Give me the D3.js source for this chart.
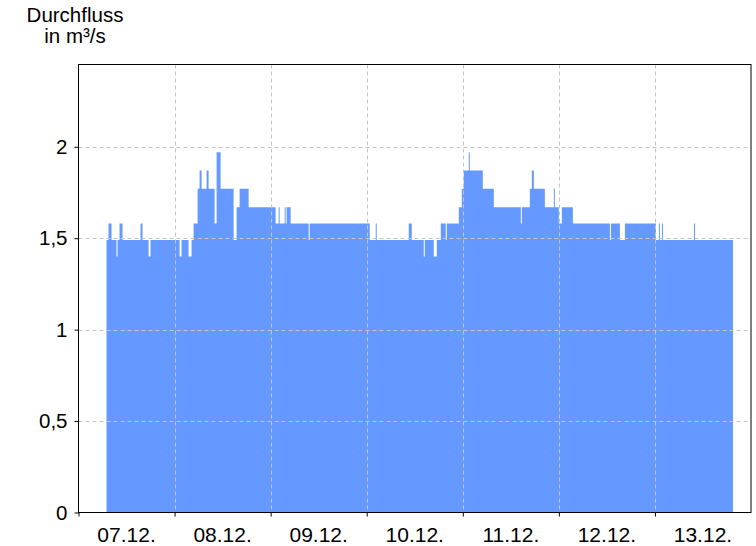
<!DOCTYPE html>
<html><head><meta charset="utf-8">
<script src="https://cdn.jsdelivr.net/npm/d3@7"></script>
<style>
body{margin:0;background:#fff;}
text{font-family:"Liberation Sans",Arial,sans-serif;fill:#000;}
</style></head>
<body><svg id="c" width="756" height="546"></svg>
<script>
// Time axis: hours since 07.12. 00:00, flow in m³/s (step changes)
const changeHours = [7.0,7.5,8.25,9.5,9.75,10.25,11.0,15.5,16.0,17.5,18.0,25.25,25.75,27.5,28.25,28.75,29.75,30.25,30.75,32.0,32.5,34.0,34.5,35.5,38.75,39.5,40.25,42.5,49.25,50.0,50.25,51.5,51.75,52.0,53.0,57.5,57.75,72.75,74.25,74.5,82.5,83.25,86.25,86.5,88.75,89.5,90.5,91.75,92.0,95.0,95.75,96.25,97.5,97.75,101.0,103.75,110.5,110.75,112.75,113.25,113.75,116.5,118.75,119.0,120.0,120.75,123.5,132.75,133.0,135.25,136.5,144.25,145.0,145.25,145.75,146.0,153.75,154.0,163.5];
const flowValues  = [1.49,1.58,1.49,1.40,1.49,1.58,1.49,1.58,1.49,1.40,1.49,1.40,1.49,1.40,1.49,1.58,1.77,1.87,1.77,1.87,1.77,1.58,1.97,1.77,1.49,1.67,1.77,1.67,1.58,1.67,1.58,1.67,1.58,1.67,1.58,1.49,1.58,1.49,1.58,1.49,1.58,1.49,1.40,1.49,1.40,1.49,1.58,1.49,1.58,1.67,1.77,1.87,1.97,1.87,1.77,1.67,1.58,1.67,1.77,1.87,1.77,1.67,1.77,1.67,1.58,1.67,1.58,1.49,1.58,1.49,1.58,1.49,1.58,1.49,1.58,1.49,1.58,1.49,1.49];
const dayLabels = ["07.12.","08.12.","09.12.","10.12.","11.12.","12.12.","13.12."];
const yTicks = [0,0.5,1,1.5,2];
const yMax = 2.45;
const startDate = new Date(2023,11,7,0,0);
const endDate = new Date(2023,11,14,0,0);

const svg = d3.select("#c");
const L=78.5, R=751, T=64.5, B=512.5;
const x = d3.scaleTime().domain([startDate,endDate]).range([L,R]);
const y = d3.scaleLinear().domain([0,yMax]).range([B,T]);
const data = changeHours.map((h,i)=>({t:new Date(startDate.getTime()+h*3600e3), v:flowValues[i]}));

const area = d3.area().curve(d3.curveStepAfter).x(d=>x(d.t)).y0(y(0)).y1(d=>y(d.v));
svg.append("path").datum(data).attr("d",area).attr("fill","#6699ff");

// grid
const days = d3.range(1,7).map(i=>d3.timeDay.offset(startDate,i));
svg.append("g").selectAll("line").data(days).join("line")
  .attr("x1",d=>Math.round(x(d))+0.5).attr("x2",d=>Math.round(x(d))+0.5)
  .attr("y1",T).attr("y2",B)
  .attr("stroke","#c4c4c4").attr("stroke-dasharray","4,3");
svg.append("g").selectAll("line").data(yTicks.filter(v=>v>0)).join("line")
  .attr("x1",L).attr("x2",R)
  .attr("y1",d=>Math.round(y(d))+0.5).attr("y2",d=>Math.round(y(d))+0.5)
  .attr("stroke","#c4c4c4").attr("stroke-dasharray","4,3");

// frame
svg.append("rect").attr("x",L).attr("y",T).attr("width",R-L).attr("height",B-T)
  .attr("fill","none").attr("stroke","#000").attr("stroke-width",1);

// y axis
const yAxis = d3.axisLeft(y).tickValues(yTicks).tickSize(4).tickPadding(7)
  .tickFormat(d=>d3.format("")(d).replace(".",","));
const gy = svg.append("g").attr("transform",`translate(${L},0)`).call(yAxis);
gy.select(".domain").remove();
gy.selectAll("text").style("font-size","20.5px").attr("font-family",null);

// x axis ticks at day boundaries, labels at noon
const gx = svg.append("g").attr("transform",`translate(0,${B})`);
gx.call(d3.axisBottom(x).tickValues(d3.range(0,7).map(i=>d3.timeDay.offset(startDate,i))).tickSize(4).tickFormat(""));
gx.select(".domain").remove();
svg.append("g").selectAll("text").data(dayLabels).join("text")
  .attr("x",(d,i)=>x(d3.timeHour.offset(startDate,i*24+12)))
  .attr("y",542).attr("text-anchor","middle").style("font-size","21px").text(d=>d);

// title
svg.append("text").attr("x",75).attr("y",22).attr("text-anchor","middle").style("font-size","20.5px").text("Durchfluss");
svg.append("text").attr("x",75).attr("y",43).attr("text-anchor","middle").style("font-size","20.5px").text("in m³/s");
</script></body></html>
